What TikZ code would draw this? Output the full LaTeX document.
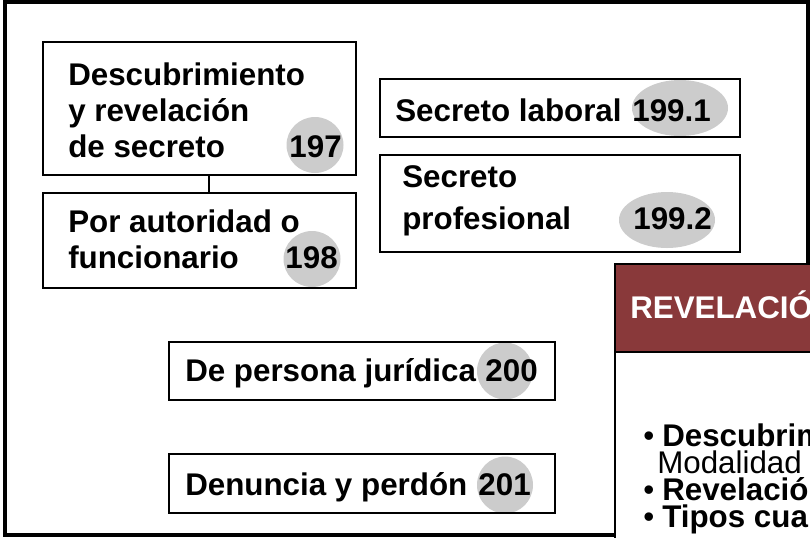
\documentclass[tikz,border=0pt]{standalone}
\usepackage{fontspec}
\setmainfont{Liberation Sans}
\usetikzlibrary{shapes.geometric}

\definecolor{numgray}{RGB}{204,204,204}
\definecolor{headred}{RGB}{137,57,58}

\tikzset{
  box/.style={draw, rectangle, line width=1.9pt, inner sep=0pt},
  num/.style={ellipse, fill=numgray, inner sep=0pt},
  txt/.style={anchor=base west, inner sep=0pt, font=\fontsize{23.5}{28}\selectfont\bfseries},
  numtxt/.style={anchor=base east, inner sep=0pt, font=\fontsize{23.5}{28}\selectfont\bfseries},
  plain/.style={anchor=base west, inner sep=0pt, font=\fontsize{23.5}{28}\selectfont},
}

\begin{document}
\begin{tikzpicture}[x=0.75pt,y=0.75pt,yscale=-1,xscale=1]
	\useasboundingbox (0,0) rectangle (810,537);
	\clip (0,0) rectangle (810,537);
	
	%Outer frame
	\draw [line width=2.6pt] (5,2) rectangle (808,535);
	
	%Number marks
	\node [num, minimum width=42.75pt, minimum height=42pt] (c197) at (315,145) {};
	\node [num, minimum width=42.75pt, minimum height=42pt] (c198) at (312,259) {};
	\node [num, minimum width=72pt, minimum height=42pt] (c1991) at (680,108) {};
	\node [num, minimum width=72pt, minimum height=42pt] (c1992) at (667,220) {};
	\node [num, minimum width=42pt, minimum height=42.75pt] (c200) at (505,371) {};
	\node [num, minimum width=42pt, minimum height=42.75pt] (c201) at (505,485) {};
	
	%Boxes
	\node [box, minimum width=234.75pt, minimum height=99.75pt] (dsc) at (199.5,108.5) {};
	\node [box, minimum width=234.75pt, minimum height=71.25pt] (aut) at (199.5,240.5) {};
	\node [box, minimum width=270pt, minimum height=43.5pt] (lab) at (560,108) {};
	\node [box, minimum width=270pt, minimum height=72.75pt] (pro) at (560,203.5) {};
	\node [box, minimum width=289.5pt, minimum height=43.5pt] (jur) at (362,371) {};
	\node [box, minimum width=289.5pt, minimum height=44.25pt] (den) at (362,483.5) {};
	
	%Link between the first two boxes
	\coordinate (lnk) at (209,0);
	\draw [line width=1.5pt] (dsc.south -| lnk) -- (aut.north -| lnk);
	
	% Text Nodes
	\node [txt] (dsc1) at (68,85) {Descubrimiento};
	\node [txt] (dsc2) at (68,121) {y revelación};
	\node [txt] (dsc3) at (68,157) {de secreto};
	\node [numtxt] (n197) at (342,157) {197};
	\node [txt] (aut1) at (68,232) {Por autoridad o};
	\node [txt] (aut2) at (68,268) {funcionario};
	\node [numtxt] (n198) at (338,268) {198};
	\node [txt] (lab1) at (395,121) {Secreto laboral};
	\node [numtxt] (n1991) at (711,121) {199.1};
	\node [txt] (pro1) at (402,187) {Secreto};
	\node [txt] (pro2) at (402,229) {profesional};
	\node [numtxt] (n1992) at (712,229) {199.2};
	\node [txt] (jur1) at (185,381) {De persona jurídica};
	\node [numtxt] (n200) at (538,381) {200};
	\node [txt] (den1) at (185,495) {Denuncia y perdón};
	\node [numtxt] (n201) at (531,495) {201};
	
	%Side panel
	\draw [line width=2.2pt, fill=white] (615,264) rectangle (840,600);
	\draw [line width=2.2pt, fill=headred] (615,264) rectangle (840,352);
	\node [txt, text=white] (hdr) at (630,318) {REVELACIÓ};
	
	\node [plain] (b1) at (643,446) {•};
	\node [txt] (it1) at (662,446) {Descubrim};
	\node [plain] (it1b) at (657,473) {Modalidad};
	\node [plain] (b2) at (643,500) {•};
	\node [txt] (it2) at (662,500) {Revelació};
	\node [plain] (b3) at (643,527) {•};
	\node [txt] (it3) at (662,527) {Tipos cua};
	
\end{tikzpicture}
\end{document}
